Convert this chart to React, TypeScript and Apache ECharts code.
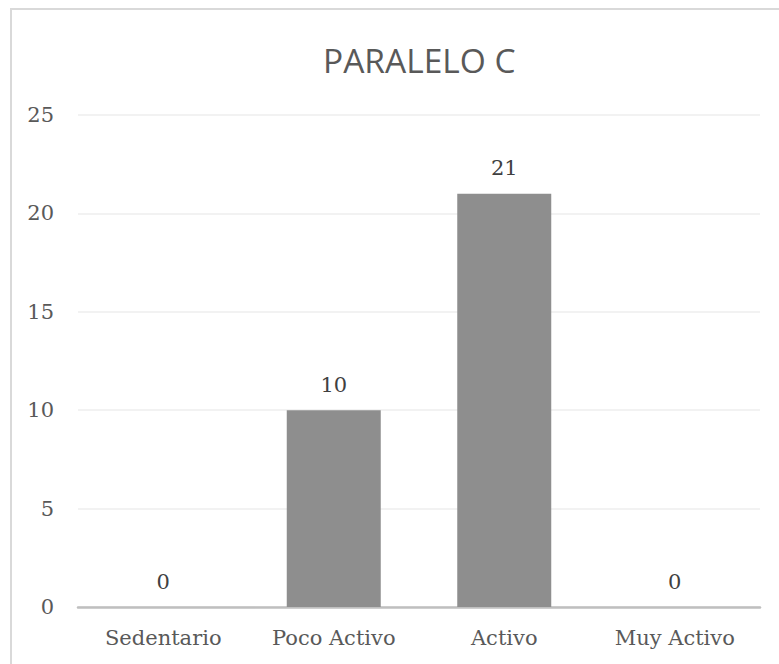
import React, { useEffect, useRef } from "react";
import * as echarts from "echarts";

const categories = ["Sedentario", "Poco Activo", "Activo", "Muy Activo"];
const values = [0, 10, 21, 0];
const titleText = "PARALELO C";

export default function App() {
  const ref = useRef<HTMLDivElement>(null);
  useEffect(() => {
    if (!ref.current) return;
    const chart = echarts.init(ref.current, undefined, { renderer: "svg" });
    const serif = "'DejaVu Serif', serif";
    chart.setOption({
      animation: false,
      backgroundColor: "#ffffff",
      title: {
        text: titleText,
        left: 318,
        top: 38,
        textStyle: {
          fontFamily: "'Open Sans', sans-serif",
          fontWeight: "normal",
          fontSize: 33.5,
          color: "#595959",
        },
      },
      graphic: [
        {
          type: "rect",
          shape: { x: 11, y: 9, width: 800, height: 700 },
          style: { fill: "none", stroke: "#d9d9d9", lineWidth: 2 },
          silent: true,
        },
      ],
      grid: { left: 78, right: 19, top: 115, bottom: 57, containLabel: false },
      xAxis: {
        type: "category",
        data: categories,
        axisLine: { show: true, lineStyle: { color: "#bfbfbf", width: 2.5 } },
        axisTick: { show: false },
        axisLabel: {
          margin: 20,
          fontFamily: serif,
          fontSize: 21,
          color: "#595959",
        },
      },
      yAxis: {
        type: "value",
        min: 0,
        max: 25,
        interval: 5,
        axisLine: { show: false },
        axisTick: { show: false },
        splitLine: { lineStyle: { color: "#eeeeee", width: 1.5 } },
        axisLabel: {
          margin: 24,
          fontFamily: serif,
          fontSize: 21,
          color: "#595959",
        },
      },
      series: [
        {
          type: "bar",
          data: values,
          barWidth: 94,
          itemStyle: { color: "#8e8e8e" },
          label: {
            show: true,
            position: "top",
            distance: 15,
            fontFamily: serif,
            fontSize: 21,
            color: "#404040",
          },
        },
      ],
    });
    return () => chart.dispose();
  }, []);
  return (
    <div
      ref={ref}
      style={{ position: "absolute", left: 0, top: 0, width: 779, height: 664 }}
    />
  );
}
